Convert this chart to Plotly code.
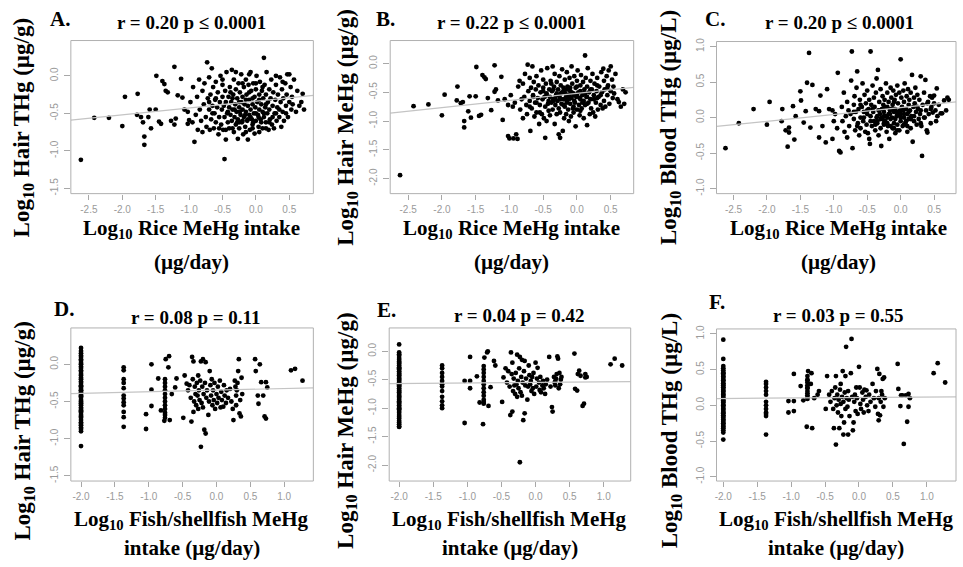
import plotly.graph_objects as go

# ---------------- DATA ----------------
# Top row: log10 rice MeHg intake (same subjects in A, B, C)
rice_x = [
    -2.62, -2.42, -2.20, -2.00, -1.96, -1.77, -1.78, -1.72, -1.69, -1.67,
    -1.67, -1.61, -1.59, -1.57, -1.50, -1.49, -1.45, -1.42, -1.40, -1.37,
    -1.35, -1.32, -1.27, -1.22, -1.22, -1.20, -1.17, -1.12, -1.10, -1.07,
    -1.02, -1.02, -1.00, -0.98, -0.95, -0.94, -0.92, -0.90, -0.88, -0.87,
    -0.85, -0.84, -0.82, -0.80, -0.80, -0.78, -0.77, -0.75, -0.74, -0.73,
    -0.72, -0.70, -0.70, -0.69, -0.68, -0.67, -0.66, -0.65, -0.64, -0.63,
    -0.62, -0.61, -0.60, -0.60, -0.58, -0.57, -0.56, -0.55, -0.54, -0.53,
    -0.52, -0.51, -0.50, -0.50, -0.49, -0.48, -0.47, -0.47, -0.46, -0.45,
    -0.45, -0.44, -0.43, -0.42, -0.41, -0.40, -0.40, -0.39, -0.38, -0.37,
    -0.36, -0.36, -0.35, -0.34, -0.33, -0.33, -0.32, -0.31, -0.30, -0.30,
    -0.29, -0.28, -0.27, -0.27, -0.26, -0.25, -0.25, -0.24, -0.23, -0.22,
    -0.22, -0.21, -0.20, -0.20, -0.19, -0.18, -0.18, -0.17, -0.16, -0.15,
    -0.15, -0.14, -0.13, -0.12, -0.12, -0.11, -0.10, -0.10, -0.09, -0.08,
    -0.08, -0.07, -0.06, -0.05, -0.05, -0.04, -0.03, -0.02, -0.02, -0.01,
    0.00, 0.00, 0.01, 0.02, 0.03, 0.04, 0.05, 0.05, 0.06, 0.07,
    0.08, 0.09, 0.10, 0.10, 0.11, 0.12, 0.12, 0.13, 0.14, 0.15,
    0.15, 0.16, 0.17, 0.18, 0.19, 0.20, 0.20, 0.21, 0.22, 0.23,
    0.24, 0.25, 0.26, 0.27, 0.28, 0.29, 0.30, 0.31, 0.32, 0.33,
    0.35, 0.36, 0.37, 0.38, 0.39, 0.40, 0.41, 0.42, 0.44, 0.45,
    0.46, 0.47, 0.48, 0.50, 0.50, 0.52, 0.53, 0.54, 0.57, 0.60,
    0.62, 0.65, 0.68, 0.70, 0.72, -0.32, -0.28, -0.24, -0.20, -0.16,
    -0.12, -0.08, -0.04, 0.00, 0.04, 0.08, 0.12, -0.35, -0.25, -0.15,
    -0.05, 0.05, 0.15, -0.42, -0.38, -0.20, -0.10, 0.00, 0.10, 0.20,
    0.30, -0.55, -0.60, -0.65, -0.70, -0.45, -0.35, -0.25, -0.15, -0.05,
    0.05, 0.15, 0.25, 0.35, 0.45, 0.55, 0.40, 0.30, -0.10, -0.30,
    -0.50,
]
hair_thg_rice = [
    -1.12, -0.56, -0.56, -0.67, -0.28, -0.24, -0.52, -0.55, -0.62, -0.81,
    -0.92, -0.55, -0.45, -0.70, -0.45, 0.00, -0.61, -0.64, -0.07, -0.11,
    -0.20, -0.22, -0.60, 0.12, -0.65, -0.57, -0.26, -0.04, -0.29, -0.45,
    -0.48, -0.64, -0.59, -0.35, -0.62, -0.15, -0.88, -0.52, -0.28, -0.72,
    -0.05, -0.45, -0.60, -0.20, -0.75, -0.38, -0.10, -0.55, -0.68, 0.18,
    -0.30, -0.45, -0.02, -0.72, -0.25, -0.58, 0.10, -0.40, -0.15, -0.70,
    -0.50, -0.32, -0.08, -0.62, -0.42, -0.22, -0.78, -0.55, -0.35, 0.00,
    -0.65, -0.45, -0.28, -0.12, -0.72, -0.40, -1.11, -0.55, -0.20, -0.85,
    -0.35, 0.05, -0.50, -0.62, -0.28, -0.42, -0.70, -0.15, -0.52, -0.35,
    0.08, -0.60, -0.45, -0.25, -0.75, -0.05, -0.55, -0.38, -0.65, -0.18,
    -0.48, -0.30, -0.84, -0.58, -0.10, -0.42, -0.70, -0.22, -0.52, -0.35,
    0.02, -0.62, -0.45, -0.28, -0.78, -0.15, -0.55, -0.38, -0.68, -0.05,
    -0.48, -0.25, -0.60, -0.40, -0.85, -0.12, -0.52, -0.32, -0.72, 0.05,
    -0.45, -0.20, -0.58, -0.38, -0.65, -0.10, -0.50, -0.28, -0.77, -0.42,
    -0.60, -0.18, 0.00, -0.35, -0.52, -0.68, -0.25, -0.45, -0.08, -0.58,
    -0.38, -0.20, -0.70, -0.48, -0.30, 0.24, -0.55, -0.12, -0.42, -0.62,
    -0.25, 0.05, -0.50, -0.35, -0.72, -0.18, -0.45, -0.58, -0.30, -0.05,
    -0.65, -0.40, -0.22, -0.70, -0.50, -0.32, -0.12, -0.60, -0.42, -0.25,
    -0.55, -0.02, -0.35, -0.68, -0.18, -0.48, -0.30, -0.60, -0.10, -0.40,
    -0.25, 0.02, -0.55, -0.35, 0.02, -0.15, -0.45, -0.28, -0.05, -0.48,
    -0.20, -0.40, -0.35, -0.24, -0.45, -0.45, -0.62, -0.48, -0.60, -0.52,
    -0.58, -0.55, -0.62, -0.50, -0.55, -0.62, -0.50, -0.30, -0.35, -0.32,
    -0.30, -0.32, -0.38, -0.48, -0.22, -0.10, -0.22, -0.10, -0.15, -0.62,
    -0.50, -0.70, -0.30, -0.50, -0.35, -0.72, -0.70, -0.62, -0.75, -0.70,
    -0.75, -0.70, -0.55, -0.45, -0.50, -0.38, -0.08, 0.00, 0.02, 0.05,
    -0.05,
]
hair_mehg_rice = [
    -1.94, -0.74, -0.71, -0.90, -0.54, -0.40, -0.64, -0.69, -0.67, -1.00,
    -1.11, -0.83, -0.57, -0.94, -0.57, -0.06, -0.91, -0.89, -0.20, -0.24,
    -0.27, -0.60, -0.81, -0.03, -0.49, -0.45, -0.64, -0.23, -0.98, -0.62,
    -1.26, -0.72, -1.30, -0.55, -0.75, -1.30, -0.68, -1.23, -1.31, -0.40,
    -0.30, -0.80, -0.62, -0.35, -0.95, -0.58, -0.18, -0.72, -0.88, -0.02,
    -0.48, -0.65, -0.25, -1.17, -0.42, -0.78, -0.05, -0.55, -0.32, -0.92,
    -0.68, -0.45, -0.22, -0.85, -0.60, -0.38, -1.05, -0.72, -0.50, -0.12,
    -0.88, -0.62, -0.42, -0.28, -0.95, -0.58, -1.29, -0.75, -0.35, -1.00,
    -0.52, -0.08, -0.70, -0.82, -0.45, -0.58, -0.90, -0.30, -0.68, -0.48,
    -0.05, -0.80, -0.62, -0.40, -1.05, -0.18, -0.72, -0.55, -0.88, -0.32,
    -0.65, -0.45, -1.23, -0.78, -0.22, -0.60, -1.29, -0.38, -0.70, -0.50,
    -0.10, -1.17, -0.62, -0.42, -0.95, -0.28, -0.75, -0.52, -0.88, -0.15,
    -0.65, -0.40, -0.80, -0.55, -1.00, -0.25, -0.70, -0.48, -0.92, -0.05,
    -0.60, -0.35, -0.78, -0.52, -0.85, -0.22, -0.68, -0.42, -1.09, -0.58,
    -0.80, -0.30, -0.12, -0.50, -0.72, -0.90, -0.38, -0.62, -0.20, -0.78,
    -0.55, -0.32, -0.95, -0.65, -0.45, 0.14, -0.72, -0.25, -0.58, -1.07,
    -0.40, -0.08, -0.68, -0.50, -0.88, -0.30, -0.62, -0.78, -0.45, -0.18,
    -0.85, -0.55, -0.35, -0.92, -0.68, -0.48, -0.25, -0.80, -0.58, -0.40,
    -0.72, -0.15, -0.50, -0.78, -0.09, -0.65, -0.45, -0.75, -0.22, -0.55,
    -0.38, -0.12, -0.70, -0.48, -0.05, -0.28, -0.60, -0.40, -0.18, -0.62,
    -0.67, -0.75, -0.45, -0.70, -0.50, -0.60, -0.55, -0.52, -0.48, -0.58,
    -0.62, -0.50, -0.65, -0.55, -0.60, -0.68, -0.52, -0.45, -0.62, -0.45,
    -0.55, -0.48, -0.58, -0.65, -0.35, -0.72, -0.60, -0.40, -0.52, -0.45,
    -0.60, -0.85, -0.68, -0.58, -0.75, -0.55, -0.65, -0.85, -0.68, -0.75,
    -0.82, -0.70, -0.62, -0.55, -0.42, -0.52, -0.30, -0.38, -0.42, -0.52,
    -0.48,
]
blood_thg_rice = [
    -0.43, -0.08, 0.12, -0.10, 0.22, 0.12, -0.05, -0.18, -0.41, -0.14,
    -0.21, 0.16, -0.31, 0.02, 0.37, 0.24, -0.07, 0.09, 0.49, 0.91,
    -0.14, 0.46, 0.12, -0.28, 0.09, 0.31, -0.12, -0.35, 0.40, 0.12,
    -0.30, 0.10, -0.05, 0.05, -0.15, 0.63, -0.47, -0.49, 0.15, -0.05,
    0.35, -0.20, 0.02, 0.22, -0.28, 0.10, -0.12, 0.05, 0.52, 0.93,
    -0.43, 0.18, -0.02, 0.30, -0.18, 0.08, 0.42, 0.65, -0.08, 0.12,
    -0.25, 0.25, 0.00, -0.15, 0.15, 0.48, -0.05, 0.08, 0.32, -0.20,
    0.20, -0.10, 0.05, 0.38, -0.22, 0.12, -0.30, 0.25, -0.37, 0.93,
    0.02, 0.18, -0.12, 0.45, 0.08, -0.05, 0.28, 0.15, -0.18, 0.35,
    0.00, 0.55, -0.08, 0.67, 0.10, -0.25, 0.22, 0.05, -0.15, 0.40,
    -0.40, 0.12, -0.02, 0.30, 0.18, -0.10, 0.08, 0.25, -0.05, 0.48,
    0.02, -0.20, 0.15, 0.35, -0.12, 0.05, 0.22, -0.30, 0.10, 0.42,
    -0.02, 0.28, 0.00, 0.18, -0.15, 0.38, 0.08, -0.08, 0.25, 0.12,
    -0.22, 0.32, 0.02, 0.45, -0.10, 0.20, 0.05, 0.35, -0.18, 0.10,
    0.82, -0.05, 0.28, 0.15, -0.12, 0.38, 0.00, 0.22, 0.48, -0.08,
    0.12, 0.30, -0.20, 0.05, 0.40, 0.18, -0.02, 0.25, 0.10, -0.15,
    0.35, 0.02, 0.60, -0.34, 0.15, 0.28, -0.05, 0.20, 0.42, 0.08,
    -0.10, 0.32, 0.12, -0.02, 0.25, 0.05, 0.58, -0.12, -0.54, 0.18,
    0.35, 0.00, 0.53, 0.10, -0.18, -0.21, 0.22, 0.05, 0.30, -0.08,
    0.15, 0.28, 0.07, 0.31, 0.20, 0.10, -0.05, 0.41, 0.18, 0.06,
    0.06, 0.24, 0.10, 0.28, 0.25, 0.10, 0.00, 0.15, -0.08, 0.05,
    0.12, -0.02, 0.08, 0.00, 0.10, -0.05, 0.08, -0.05, 0.02, -0.12,
    0.05, -0.10, 0.00, 0.12, -0.10, 0.00, -0.15, 0.05, -0.12, 0.02,
    -0.08, 0.00, 0.18, -0.12, 0.08, -0.05, 0.02, -0.08, 0.12, -0.18,
    0.05, -0.02, 0.15, 0.00, 0.12, 0.02, 0.20, 0.10, 0.22, -0.02,
    0.10,
]

# Bottom row: log10 fish/shellfish MeHg intake (same subjects in D, E, F)
fish_x = [
    -2.00, -2.00, -2.00, -2.00, -2.00, -2.00, -2.00, -2.00, -2.00, -2.00,
    -2.00, -2.00, -2.00, -2.00, -2.00, -2.00, -2.00, -2.00, -2.00, -2.00,
    -2.00, -2.00, -2.00, -2.00, -2.00, -2.00, -2.00, -2.00, -2.00, -2.00,
    -2.00, -2.00, -2.00, -2.00, -2.00, -2.00, -2.00, -2.00, -2.00, -2.00,
    -2.00, -2.00, -2.00, -2.00, -2.00, -2.00, -2.00, -2.00, -2.00, -2.00,
    -2.00,
    -1.37, -1.37, -1.37, -1.37, -1.37, -1.37, -1.37, -1.37, -1.37, -1.37,
    -1.37, -1.37,
    -1.04, -1.04, -0.96, -0.96, -0.96, -0.86, -0.82, -0.77, -0.75, -0.70,
    -0.71, -0.69, -0.76, -0.76, -0.76, -0.76, -0.76, -0.76, -0.76, -0.76,
    -0.76, -0.76, -0.76, -0.76, -0.66, -0.61, -0.59, -0.49, -0.47, -0.44,
    -0.42, -0.40, -0.38, -0.36, -0.34, -0.34, -0.37, -0.35, -0.33, -0.32,
    -0.31, -0.30, -0.29, -0.28, -0.27, -0.27, -0.26, -0.25, -0.24, -0.23,
    -0.23, -0.22, -0.21, -0.20, -0.20, -0.19, -0.18, -0.17, -0.16, -0.16,
    -0.15, -0.14, -0.12, -0.11, -0.10, -0.09, -0.08, -0.07, -0.06, -0.05,
    -0.04, -0.03, -0.02, 0.00, 0.01, 0.02, 0.03, 0.05, 0.06, 0.07,
    0.08, 0.10, 0.11, 0.12, 0.14, 0.15, 0.17, 0.20, 0.22, 0.24,
    0.25, 0.27, 0.28, 0.29, 0.29, 0.30, 0.31, 0.32, 0.33, 0.34,
    0.35, 0.36, 0.37, 0.38, 0.57, 0.58, 0.61, 0.62, 0.64, 0.66,
    0.69, 0.71, 0.73, 0.73, 0.75, 1.10, 1.16, 1.27,
]
hair_thg_fish = [
    0.22, 0.18, 0.15, 0.12, 0.10, 0.07, 0.05, 0.02, 0.00, -0.03,
    -0.05, -0.08, -0.10, -0.13, -0.15, -0.18, -0.20, -0.23, -0.25, -0.28,
    -0.30, -0.33, -0.35, -0.38, -0.40, -0.43, -0.45, -0.48, -0.50, -0.53,
    -0.55, -0.58, -0.60, -0.63, -0.65, -0.68, -0.70, -0.72, -0.75, -0.78,
    -0.80, -0.82, -0.85, -0.87, -0.90, -0.42, -0.36, -0.52, -0.30, -0.62,
    -1.10,
    -0.04, -0.08, -0.20, -0.25, -0.32, -0.42, -0.46, -0.51, -0.55, -0.64,
    -0.71, -0.84,
    -0.87, -0.67, 0.00, -0.34, -0.56, -0.19, -0.62, -0.76, 0.07, 0.11,
    -0.04, -0.75, -0.20, -0.25, -0.30, -0.35, -0.40, -0.45, -0.50, -0.55,
    -0.60, -0.65, -0.68, -0.72, -0.40, -0.31, -0.19, -0.72, -0.15, -0.26,
    -0.35, -0.28, -0.45, 0.10, 0.04, -0.64, -0.77, -0.20, -0.50, -0.30,
    -0.40, -0.55, -0.25, -0.42, -0.60, -0.15, -0.35, -0.48, -0.22, 0.04,
    -1.11, -0.52, -0.30, 0.07, -0.58, -0.40, -0.88, -0.25, -0.93, 0.03,
    -0.45, -0.35, -0.68, -0.50, -0.09, -0.28, -0.42, -0.20, -0.55, -0.35,
    -0.48, -0.25, -0.60, -0.40, -0.52, -0.30, -0.45, -0.22, -0.58, -0.37,
    -0.48, -0.57, -0.28, -0.42, -0.52, -0.35, -0.45, -0.33, -0.50, -0.60,
    -0.75, -0.22, -0.30, -0.42, -0.55, -0.35, -0.25, -0.09, 0.07, -0.66,
    -0.48, -0.70, -0.18, -0.40, 0.07, -0.09, -0.42, -0.53, 0.00, -0.24,
    -0.42, -0.70, -0.73, -0.24, -0.31, -0.08, -0.06, -0.22,
]
hair_mehg_fish = [
    0.12, -0.02, -0.05, -0.08, -0.12, -0.15, -0.18, -0.22, -0.25, -0.28,
    -0.32, -0.35, -0.38, -0.42, -0.45, -0.48, -0.52, -0.55, -0.58, -0.62,
    -0.65, -0.68, -0.72, -0.75, -0.78, -0.82, -0.85, -0.88, -0.92, -0.95,
    -0.98, -1.02, -1.05, -1.08, -1.12, -1.15, -1.18, -1.22, -1.25, -1.28,
    -1.32, -0.60, -0.50, -0.70, -0.40, -0.80, -0.30, -0.90, -1.00, -0.20,
    -1.33,
    -0.25, -0.30, -0.38, -0.45, -0.52, -0.58, -0.62, -0.70, -0.80, -0.88,
    -0.95, -1.00,
    -1.26, -0.52, -0.10, -0.65, -0.52, -0.44, -0.90, -1.28, -0.11, 0.00,
    -0.02, -0.96, -0.26, -0.32, -0.38, -0.45, -0.52, -0.58, -0.65, -0.72,
    -0.78, -0.85, -0.89, -0.92, -0.63, -0.17, -0.25, -0.89, -0.46, -0.30,
    -0.55, -0.35, -0.62, -0.02, -0.20, -1.06, -1.12, -0.40, -0.70, -0.48,
    -0.60, -0.75, -0.38, -0.58, -0.80, -0.06, -0.52, -0.65, -0.30, -0.10,
    -1.95, -0.72, -0.45, -0.15, -0.78, -0.55, -1.21, -0.35, -1.09, -0.17,
    -0.60, -0.48, -0.85, -0.62, -0.25, -0.42, -0.58, -0.52, -0.70, -0.45,
    -0.65, -0.38, -0.75, -0.20, -0.62, -0.48, -0.29, -0.55, -0.68, -0.45,
    -0.72, -0.60, -0.52, -0.65, -0.75, -0.58, -0.50, -0.10, -0.62, -0.98,
    -1.06, -0.45, -0.55, -0.52, -0.60, -0.48, -0.40, -0.09, -0.13, -0.65,
    -0.38, -0.58, -0.50, -0.45, -0.04, -0.66, -0.69, -0.40, -0.34, -0.43,
    -0.96, -0.92, -0.46, -0.40, -0.45, -0.23, -0.13, -0.25,
]
blood_thg_fish = [
    0.92, 0.65, 0.55, 0.52, 0.49, 0.46, 0.43, 0.40, 0.37, 0.34,
    0.31, 0.28, 0.25, 0.22, 0.19, 0.16, 0.13, 0.10, 0.07, 0.04,
    0.01, -0.02, -0.05, -0.08, -0.11, -0.14, -0.17, -0.20, -0.23, -0.26,
    -0.29, -0.32, -0.35, -0.38, 0.30, 0.20, 0.10, 0.00, -0.10, -0.20,
    0.35, 0.15, 0.05, -0.15, -0.25, 0.45, 0.25, -0.05, -0.30, 0.40,
    -0.48,
    0.33, 0.30, 0.20, 0.15, 0.05, 0.00, -0.05, -0.10, -0.15, -0.12,
    0.25, -0.41,
    0.06, -0.10, 0.44, -0.08, 0.06, 0.27, 0.07, -0.30, 0.48, 0.45,
    0.30, -0.32, 0.41, 0.36, 0.32, 0.28, 0.24, 0.20, 0.17, 0.14,
    0.11, 0.09, 0.35, 0.25, 0.10, 0.15, 0.20, -0.05, 0.41, 0.15,
    0.05, 0.20, -0.05, 0.10, 0.41, -0.55, -0.32, 0.25, 0.00, 0.15,
    -0.10, 0.08, -0.32, 0.22, 0.02, 0.30, -0.15, 0.12, 0.48, 0.05,
    -0.41, -0.24, 0.18, 0.41, -0.05, 0.82, 0.10, -0.02, -0.41, 0.20,
    0.08, -0.15, 0.45, 0.93, 0.12, -0.35, -0.24, 0.05, 0.15, -0.08,
    0.25, 0.10, -0.12, 0.54, 0.25, 0.02, -0.05, 0.18, 0.08, -0.10,
    0.22, 0.12, 0.21, 0.00, -0.08, 0.15, 0.05, 0.30, 0.10, -0.02,
    0.20, 0.51, -0.12, -0.21, 0.10, 0.44, -0.14, 0.05, 0.20, 0.15,
    0.37, -0.02, 0.39, 0.10, 0.58, 0.23, -0.01, 0.14, 0.14, -0.54,
    0.14, -0.23, -0.02, 0.16, 0.10, 0.45, 0.59, 0.32,
]

# Fitted regression lines (intercept, slope)
fit_intercept = [-0.338, -0.518, 0.142, -0.347, -0.548, 0.110]
fit_slope = [0.091, 0.124, 0.097, 0.022, 0.010, 0.007]

panel_letters = ["A.", "B.", "C.", "D.", "E.", "F."]
panel_stats = ["r = 0.20 p ≤ 0.0001", "r = 0.22 p ≤ 0.0001", "r = 0.20 p ≤ 0.0001",
               "r = 0.08 p = 0.11", "r = 0.04 p = 0.42", "r = 0.03 p = 0.55"]
y_titles = ["Log<sub>10</sub> Hair THg (µg/g)", "Log<sub>10</sub> Hair MeHg (µg/g)",
            "Log<sub>10</sub> Blood THg (µg/L)", "Log<sub>10</sub> Hair THg (µg/g)",
            "Log<sub>10</sub> Hair MeHg (µg/g)", "Log<sub>10</sub> Blood THg (µg/L)"]
x_title_lines = [("Log<sub>10</sub> Rice MeHg intake", "(µg/day)")] * 3 + \
                [("Log<sub>10</sub> Fish/shellfish MeHg", "intake (µg/day)")] * 3

x_ticks_rice = [-2.5, -2.0, -1.5, -1.0, -0.5, 0.0, 0.5]
x_ticks_fish = [-2.0, -1.5, -1.0, -0.5, 0.0, 0.5, 1.0]
y_ticks_thg = [-1.5, -1.0, -0.5, 0.0]
y_ticks_mehg = [-2.0, -1.5, -1.0, -0.5, 0.0]
y_ticks_blood = [-1.0, -0.5, 0.0, 0.5, 1.0]

# ---------------- LAYOUT (pixels) ----------------
W, H = 963, 567
SERIF = "Liberation Serif, Times New Roman, serif"
TICKFONT = dict(family="Liberation Sans Narrow, Arial Narrow, Liberation Sans, sans-serif",
                size=10, color="#9a9a9a")

xs = [rice_x, rice_x, rice_x, fish_x, fish_x, fish_x]
ys = [hair_thg_rice, hair_mehg_rice, blood_thg_rice, hair_thg_fish, hair_mehg_fish, blood_thg_fish]
xticks = [x_ticks_rice] * 3 + [x_ticks_fish] * 3
yticks = [y_ticks_thg, y_ticks_mehg, y_ticks_blood, y_ticks_thg, y_ticks_mehg, y_ticks_blood]

xdom = [(69, 312), (389, 633), (716, 956), (69, 312), (388, 630), (716, 956)]
ydom = [(37, 192), (37, 192), (38, 192), (328, 483), (328, 483), (329, 483)]
xr = [(-2.77, 0.86), (-2.766, 0.84), (-2.754, 0.828), (-2.15, 1.43), (-2.146, 1.395), (-2.10, 1.43)]
yr = [(-1.57, 0.47), (-2.26, 0.40), (-1.07, 1.07), (-1.57, 0.49), (-2.28, 0.41), (-1.06, 1.07)]

letter_pos = [(58, 15), (384, 15), (714, 15), (62, 309), (385, 310), (716, 302)]
stat_pos = [(190, 19), (511, 19), (839, 19), (194, 317), (519, 315), (838, 315)]
ytitle_pos = [(22, 125), (346, 125), (670, 125), (22, 432), (345, 432), (670, 432)]
xtitle_cx = [190, 511, 838, 190, 509, 836]
xtitle_y = [(228, 261)] * 3 + [(522, 551)] * 3


def px(x):
    return x / W


def py(y):
    return 1 - y / H


fig = go.Figure()
layout = dict(width=W, height=H, margin=dict(l=0, r=0, t=0, b=0),
              paper_bgcolor="white", plot_bgcolor="white", showlegend=False)
shapes = []
annotations = []


def note(text, x, y, size, angle=0):
    return dict(text=text, x=px(x), y=py(y), xref="paper", yref="paper",
                xanchor="center", yanchor="middle", showarrow=False, textangle=angle,
                borderpad=0, font=dict(family=SERIF, size=size, color="black"))


for i in range(6):
    s = "" if i == 0 else str(i + 1)
    fig.add_trace(go.Scatter(
        x=xs[i], y=ys[i], mode="markers", xaxis="x" + s, yaxis="y" + s,
        marker=dict(color="black", size=4.8, line=dict(width=0)),
        hoverinfo="skip"))
    lx = list(xr[i])
    ly = [fit_intercept[i] + fit_slope[i] * v for v in lx]
    fig.add_trace(go.Scatter(
        x=lx, y=ly, mode="lines", xaxis="x" + s, yaxis="y" + s,
        line=dict(color="#c4c4c4", width=1.2), hoverinfo="skip"))

    layout["xaxis" + s] = dict(
        domain=[px(xdom[i][0]), px(xdom[i][1])], range=list(xr[i]), anchor="y" + s,
        tickvals=xticks[i], ticktext=[f"{v:.1f}" for v in xticks[i]],
        ticks="outside", ticklen=5, tickwidth=1, tickcolor="#a8a8a8",
        tickfont=TICKFONT, showgrid=False, zeroline=False, showline=False,
        ticklabelstandoff=1)
    layout["yaxis" + s] = dict(
        domain=[py(ydom[i][1]), py(ydom[i][0])], range=list(yr[i]), anchor="x" + s,
        tickvals=yticks[i], ticktext=[f"{v:.1f}" for v in yticks[i]],
        ticks="outside", ticklen=6, tickwidth=1, tickcolor="#a8a8a8",
        tickfont=TICKFONT, tickangle=-90, showgrid=False, zeroline=False,
        showline=False, ticklabelstandoff=2)

    shapes.append(dict(type="rect", xref="paper", yref="paper", layer="above",
                       x0=px(xdom[i][0]), x1=px(xdom[i][1]),
                       y0=py(ydom[i][1]), y1=py(ydom[i][0]),
                       line=dict(color="#b0b0b0", width=1)))

    annotations.append(note(f"<b>{panel_letters[i]}</b>", *letter_pos[i], 21))
    annotations.append(note(f"<b>{panel_stats[i]}</b>", *stat_pos[i], 19))
    annotations.append(note(f"<b>{y_titles[i]}</b>", *ytitle_pos[i], 23, angle=-90))
    for line_text, ly_px in zip(x_title_lines[i], xtitle_y[i]):
        annotations.append(note(f"<b>{line_text}</b>", xtitle_cx[i], ly_px, 21))

layout["shapes"] = shapes
layout["annotations"] = annotations
fig.update_layout(**layout)
fig.write_html("out.html", config={"displayModeBar": False},
               post_script="document.body.style.margin='0px';document.body.style.padding='0px';")
